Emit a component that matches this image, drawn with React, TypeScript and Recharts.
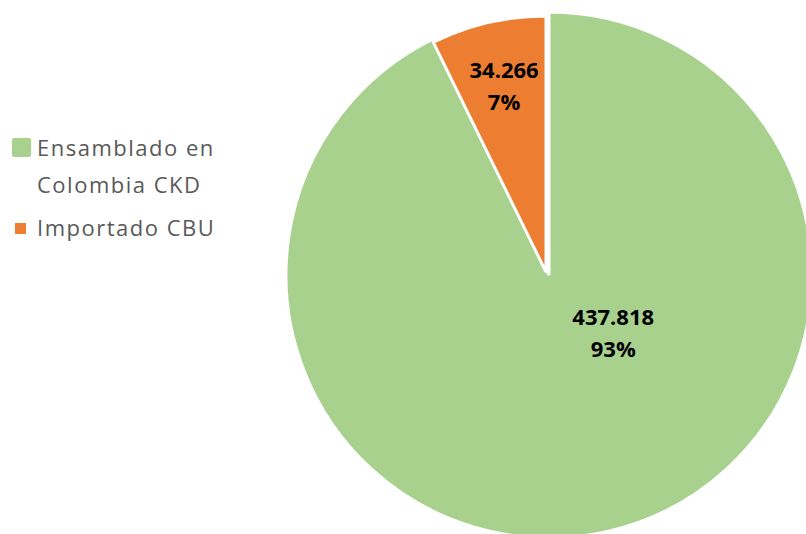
import React from "react";
import { PieChart, Pie, Cell } from "recharts";

const categories = ["Ensamblado en Colombia CKD", "Importado CBU"];
const values = [437818, 34266];
const valueLabels = ["437.818", "34.266"];
const percentLabels = ["93%", "7%"];

const colors = ["#A9D18E", "#ED7D31"];
const data = categories.map((name, i) => ({ name, value: values[i] }));

// label placement (fraction of radius, angle in degrees, screen coords) for the first baseline
const labelPos = [
  { r: 0.31, ang: 38 },
  { r: 0.775, ang: -102.2 },
];

const makeLabel = (onlyIndex: number) => (props: any) => {
  const { cx, cy, outerRadius, index } = props;
  if (index !== onlyIndex) return null;
  const p = labelPos[index];
  const rad = (p.ang * Math.PI) / 180;
  const x = cx + Math.cos(rad) * p.r * outerRadius;
  const y = cy + Math.sin(rad) * p.r * outerRadius;
  return (
    <text
      x={x}
      y={y}
      textAnchor="middle"
      fill="#000"
      fontFamily="'Open Sans', sans-serif"
      fontWeight={700}
      fontSize={22}
    >
      <tspan x={x} y={y}>{valueLabels[index]}</tspan>
      <tspan x={x} y={y + 32}>{percentLabels[index]}</tspan>
    </text>
  );
};

const LegendBox = () => (
  <div
    style={{
      position: "absolute",
      left: 12,
      top: 129,
      width: 240,
      fontFamily: "'Open Sans', sans-serif",
      color: "#595959",
      fontSize: 22,
      letterSpacing: 1.5,
      lineHeight: "37px",
    }}
  >
    <div style={{ display: "flex", alignItems: "flex-start" }}>
      <div style={{ width: 19, height: 19, background: colors[0], marginTop: 9, marginRight: 6, borderRadius: 2, flex: "none" }} />
      <div style={{ width: 200 }}>{categories[0]}</div>
    </div>
    <div style={{ display: "flex", alignItems: "flex-start", marginTop: 6 }}>
      <div style={{ width: 11, height: 11, background: colors[1], marginTop: 14, marginLeft: 3, marginRight: 11, flex: "none" }} />
      <div>{categories[1]}</div>
    </div>
  </div>
);

export default function App() {
  return (
    <div style={{ position: "absolute", left: 0, top: 0, width: 806, height: 534, overflow: "hidden", background: "#fff" }}>
      <PieChart width={806} height={534} margin={{ top: 0, right: 0, bottom: 0, left: 0 }}>
        <Pie
          data={data}
          dataKey="value"
          cx={549}
          cy={275}
          outerRadius={263}
          startAngle={90}
          endAngle={-270}
          stroke="#fff"
          strokeWidth={3}
          isAnimationActive={false}
          labelLine={false}
          label={makeLabel(0)}
        >
          {data.map((d, i) => (
            <Cell key={d.name} fill={i === 0 ? colors[0] : "transparent"} stroke={i === 0 ? "#fff" : "none"} />
          ))}
        </Pie>
        <Pie
          data={data}
          dataKey="value"
          cx={546}
          cy={272}
          outerRadius={256}
          startAngle={90}
          endAngle={-270}
          stroke="#fff"
          strokeWidth={3}
          isAnimationActive={false}
          labelLine={false}
          label={makeLabel(1)}
        >
          {data.map((d, i) => (
            <Cell key={d.name} fill={i === 1 ? colors[1] : "transparent"} stroke={i === 1 ? "#fff" : "none"} />
          ))}
        </Pie>
      </PieChart>
      <LegendBox />
    </div>
  );
}
